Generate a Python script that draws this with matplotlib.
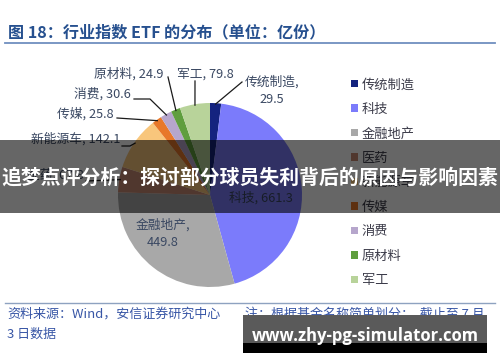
import matplotlib
matplotlib.use("Agg")
import matplotlib.pyplot as plt
import numpy as np
from matplotlib.patches import Rectangle

plt.rcParams['font.family'] = ['Noto Sans CJK SC', 'DejaVu Sans']

categories = ['传统制造', '科技', '金融地产', '医药', '新能源车', '传媒', '消费', '原材料', '军工']
values = [29.5, 661.3, 449.8, 67.8, 142.1, 25.8, 30.6, 24.9, 79.8]
colors = ['#14237f', '#7b7bfb', '#a8a8a8', '#c98a74', '#f8c67c', '#e8782a', '#b6a6cc', '#5f9e3e', '#b8d39a']

W, H = 500, 362
fig = plt.figure(figsize=(W / 100, H / 100), dpi=100)
fig.patch.set_facecolor('white')

# pie axes: center (210,195) px, radius 92 px
cx, cy, R = 210, 195, 92
ax = fig.add_axes([(cx - R) / W, (H - cy - R) / H, 2 * R / W, 2 * R / H])
wedges, _ = ax.pie(values, colors=colors, startangle=90, counterclock=False,
                   radius=1.0, wedgeprops=dict(linewidth=0))
ax.set_xlim(-1, 1)
ax.set_ylim(-1, 1)
ax.set_aspect('equal')
ax.axis('off')

def px2d(px, py):
    return ((px - cx) / R, (cy - py) / R)

label_color = '#3a4862'
fs = 9.2
mids = []
for w in wedges:
    a = np.deg2rad((w.theta1 + w.theta2) / 2)
    mids.append((np.cos(a), np.sin(a)))

def leader(i, pts, r=0.99):
    x0, y0 = mids[i][0] * r, mids[i][1] * r
    xs = [x0] + [px2d(*p)[0] for p in pts]
    ys = [y0] + [px2d(*p)[1] for p in pts]
    ax.plot(xs, ys, color='#1a1a1a', lw=0.9, clip_on=False, zorder=5)

def lab(text, px, py, ha='center'):
    x, y = px2d(px, py)
    ax.text(x, y, text, ha=ha, va='center', fontsize=fs, color=label_color,
            clip_on=False, zorder=6, linespacing=1.45)

leader(0, [(242, 82)])
lab(f'{categories[0]},\n{values[0]}', 272, 91)
leader(8, [(195, 81)])
lab(f'{categories[8]}, {values[8]}', 177, 74, ha='left')
leader(7, [(168, 77)])
lab(f'{categories[7]}, {values[7]}', 164, 74, ha='right')
leader(6, [(150, 99), (134, 99)])
lab(f'{categories[6]}, {values[6]}', 131, 94, ha='right')
leader(5, [(117, 118)])
lab(f'{categories[5]}, {values[5]}', 114, 114, ha='right')
leader(4, [(130, 146), (122, 146)])
lab(f'{categories[4]}, {values[4]}', 120, 139, ha='right')
leader(3, [(86, 181)])
lab(f'{categories[3]}, {values[3]}', 84, 175, ha='right')
lab(f'{categories[1]}, {values[1]}', 261, 198)
lab(f'{categories[2]},\n{values[2]}', 163, 234)

# legend
leg = fig.legend(wedges, categories, loc='upper left',
                 bbox_to_anchor=(346 / W, 1 - 73 / H), frameon=False,
                 fontsize=9.5, handlelength=0.5, handleheight=0.5,
                 handletextpad=0.3, labelspacing=0.87, borderaxespad=0)
for t in leg.get_texts():
    t.set_color('#3c3c4a')

# title and rules
fig.text(8 / W, 1 - 32 / H, '图 18：行业指数 ETF 的分布（单位：亿份）', fontsize=11.6,
         fontweight='bold', color='#26508f', ha='left', va='center')
fig.add_artist(plt.Line2D([5 / W, 495 / W], [1 - 43 / H, 1 - 43 / H], color='#6f8fbf', lw=1.3))
fig.add_artist(plt.Line2D([5 / W, 495 / W], [1 - 303 / H, 1 - 303 / H], color='#8ea2c0', lw=1.0))

# footer
fcol = '#3856a6'
fig.text(7 / W, 1 - 314 / H, '资料来源：Wind，安信证券研究中心', fontsize=9.4, color=fcol,
         ha='left', va='center', style='italic')
fig.text(245 / W, 1 - 314 / H, '注：根据基金名称简单划分；  截止至 7 月', fontsize=9.4, color=fcol,
         ha='left', va='center', style='italic')
fig.text(7 / W, 1 - 334 / H, '3 日数据', fontsize=9.4, color=fcol, ha='left', va='center',
         style='italic')

# banner overlay
fig.add_artist(Rectangle((0, 1 - 213 / H), 1, 73 / H, transform=fig.transFigure,
                         facecolor='black', alpha=0.6, edgecolor='none', zorder=20))
fig.text(0.5, 1 - 177 / H, '追梦点评分析：探讨部分球员失利背后的原因与影响因素',
         fontsize=14.3, fontweight='bold', color='white', ha='center', va='center', zorder=21)

# watermark box
fig.add_artist(Rectangle((243 / W, 1 - 353 / H), 244 / W, 38 / H, transform=fig.transFigure,
                         facecolor='black', edgecolor='none', zorder=20))
fig.add_artist(Rectangle((243 / W, 1 - 343 / H), 244 / W, 28 / H, transform=fig.transFigure,
                         facecolor='#5a5a5a', edgecolor='none', zorder=21))
fig.text(365 / W, 1 - 336 / H, 'www.zhy-pg-simulator.com', fontsize=12, fontweight='bold',
         family='Open Sans', color='white', ha='center', va='center', zorder=22)

fig.savefig('out.png', dpi=100, facecolor='white')
